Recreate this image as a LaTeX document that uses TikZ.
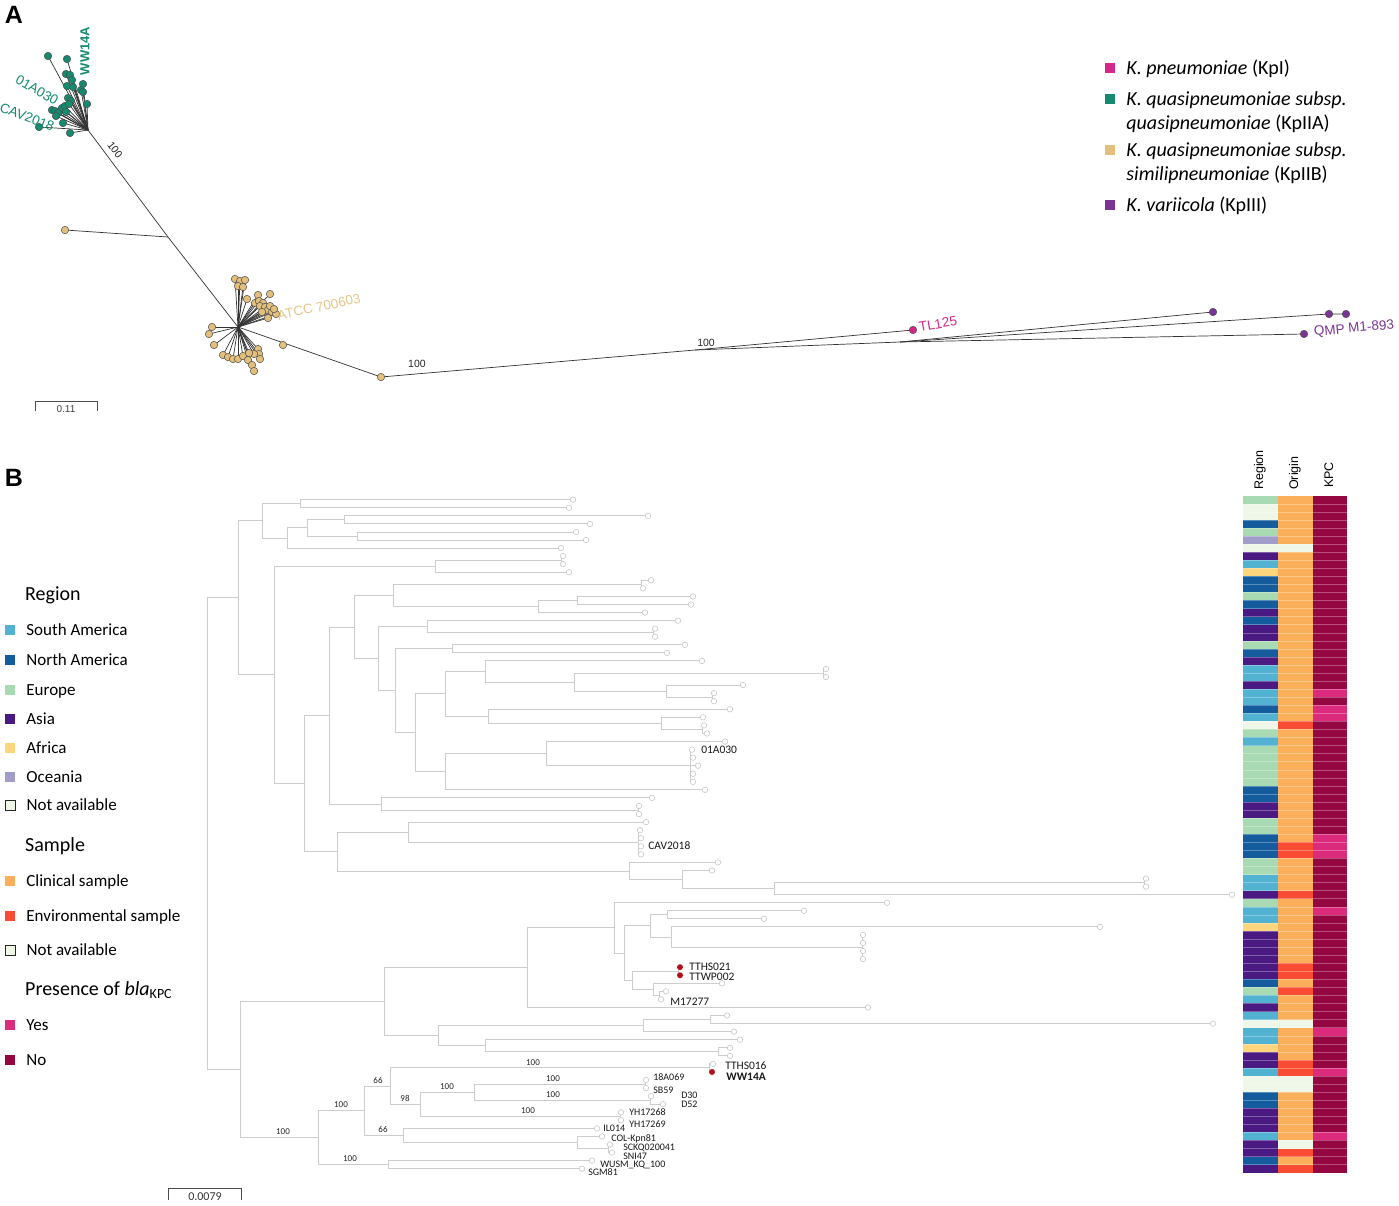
\documentclass[tikz,border=0pt]{standalone}
\usepackage{fontspec}
\setmainfont{Carlito}
\newfontfamily\arialfont{Liberation Sans}
\usetikzlibrary{positioning,backgrounds}

\definecolor{colKpI}{HTML}{D4278A}
\definecolor{colKpIIA}{HTML}{158A6E}
\definecolor{colKpIIB}{HTML}{E3BF7B}
\definecolor{colKpIII}{HTML}{7B3494}
\definecolor{regS}{HTML}{52B2D1}
\definecolor{regN}{HTML}{145C9E}
\definecolor{regE}{HTML}{A8DBB4}
\definecolor{regA}{HTML}{4A1A82}
\definecolor{regF}{HTML}{FDD57C}
\definecolor{regO}{HTML}{A19DCA}
\definecolor{regX}{HTML}{EFF7E8}
\definecolor{oriC}{HTML}{FBAF5B}
\definecolor{oriV}{HTML}{F84D34}
\colorlet{oriX}{regX}
\definecolor{kpcY}{HTML}{DC2A7C}
\definecolor{kpcN}{HTML}{950740}
\definecolor{treegray}{HTML}{CDCDCD}
\definecolor{redtip}{HTML}{B3121C}

\begin{document}
\begin{tikzpicture}[x=1pt, y=-1pt,
  panel/.style={font=\arialfont\bfseries\fontsize{25}{28}\selectfont, inner sep=0pt},
  abranch/.style={draw=black!80, line width=0.7pt},
  tipA/.style={circle, draw=black!70, line width=0.5pt, minimum size=7.5pt, inner sep=0pt},
  alabel/.style={font=\arialfont\fontsize{13.5}{16}\selectfont, inner sep=0pt},
  aboot/.style={font=\arialfont\fontsize{10.5}{12}\selectfont, inner sep=0pt, text=black!85},
  legsq/.style={minimum size=10pt, inner sep=0pt},
  legA/.style={font=\fontsize{20}{24}\selectfont, inner sep=0pt, text height=12.6pt, text depth=0pt, anchor=west},
  legB/.style={font=\fontsize{17}{20}\selectfont, inner sep=0pt, text height=10.7pt, text depth=0pt, anchor=west},
  legBhead/.style={legA},
  branch/.style={draw=treegray, line width=0.9pt},
  tip/.style={circle, draw=black!22, fill=white, line width=0.6pt, minimum size=5.5pt, inner sep=0pt},
  tipred/.style={circle, fill=redtip, minimum size=6pt, inner sep=0pt},
  lbl/.style={font=\fontsize{11.5}{13}\selectfont, inner sep=0pt, text height=7.3pt, text depth=0pt, text=black!90},
  lbls/.style={font=\fontsize{10}{12}\selectfont, inner sep=0pt, text height=6.3pt, text depth=0pt, text=black!90},
  boot/.style={font=\fontsize{9}{10}\selectfont, inner sep=0pt, anchor=south, yshift=2.5pt, text=black!85},
  hdr/.style={font=\arialfont\fontsize{12.5}{14}\selectfont, rotate=90, anchor=base west, inner sep=0pt},
  scalebar/.style={draw=black!70, line width=0.7pt},
  cellsep/.style={draw=white, draw opacity=0.3, line width=0.4pt}
]
\useasboundingbox (0,0) rectangle (1399,1205);

% Panel letters
\node[panel] (pA) at (14,15) {A};
\node[panel] (pB) at (14,478) {B};

% ---------- Panel A: unrooted tree ----------
\coordinate (rA) at (88,130);
\coordinate (jA) at (168,237);
\coordinate (rB) at (238,327);
\coordinate (kS) at (695,350);
\coordinate (kIII) at (900,342);

% KpIIA tips
\foreach \xa/\ya [count=\k] in {48/56, 67/59, 66/74, 70/75, 72/80, 67/86, 73/87, 83/84, 81/90,
    83/92, 68/98, 71/101, 87/104, 52/110, 55/111, 60/111, 62/108, 65/106, 58/113, 56/116,
    63/123, 39/127, 70/133, 66/112, 69/104}
  \node[tipA, fill=colKpIIA] (ia\k) at (\xa,\ya) {};

% KpIIB tips
\foreach \xb/\yb [count=\k] in {235/279, 240/281, 245/280, 238/286, 243/287, 247/299, 258/295,
    270/294, 255/303, 259/301, 263/303, 260/306, 265/307, 268/310, 272/312, 276/314, 262/312,
    268/318, 270/306, 274/309, 212/327, 209/334, 214/345, 223/355, 228/357, 233/359, 238/359,
    243/356, 248/360, 252/365, 254/371, 258/349, 259/354, 260/359, 254/354, 249/353}
  \node[tipA, fill=colKpIIB] (ib\k) at (\xb,\yb) {};

\node[tipA, fill=colKpIIB] (ibS) at (65,230) {};
\node[tipA, fill=colKpIIB] (ib283) at (283,345) {};
\node[tipA, fill=colKpIIB] (ib381) at (381,377) {};
\node[tipA, fill=colKpI] (iTL) at (913,330) {};
\node[tipA, fill=colKpIII] (iv1) at (1213,312) {};
\node[tipA, fill=colKpIII] (iv2) at (1329,314) {};
\node[tipA, fill=colKpIII] (iv3) at (1346,314) {};
\node[tipA, fill=colKpIII] (iv4) at (1304,334) {};

\begin{pgfonlayer}{background}
  \foreach \k in {1,...,25} \draw[abranch] (rA) -- (ia\k.center);
  \foreach \k in {1,...,36} \draw[abranch] (rB) -- (ib\k.center);
  \draw[abranch] (rA) -- (jA) -- (rB) -- (ib381.center) -- (kS) -- (iTL.center);
  \draw[abranch] (jA) -- (ibS.center);
  \draw[abranch] (kS) -- (kIII) -- (iv1.center);
  \draw[abranch] (kIII) -- (iv2.center) -- (iv3.center);
  \draw[abranch] (kIII) -- (iv4.center);
\end{pgfonlayer}

% Panel A labels
\node[alabel, text=colKpIIA, font=\arialfont\bfseries\fontsize{13}{15}\selectfont, rotate=90] (lWW) at (85,51) {WW14A};
\node[alabel, text=colKpIIA, rotate=-30] (l01A) at (37,90) {01A030};
\node[alabel, text=colKpIIA, rotate=-21] (lCAV) at (27,117) {CAV2018};
\node[aboot, rotate=-52] (b1) at (115,150) {100};
\node[alabel, text=colKpIIB!90!white, rotate=12] (lATCC) at (319,307) {ATCC 700603};
\node[aboot] (b2) at (417,364) {100};
\node[aboot] (b3) at (706,343) {100};
\node[alabel, text=colKpI, rotate=10] (lTL) at (938,324) {TL125};
\node[alabel, text=colKpIII, rotate=5] (lQMP) at (1354,329) {QMP M1-893};

% Scale bar A
\draw[scalebar] (35,411) -- (35,401) -- (97,401) -- (97,411);
\node[font=\arialfont\fontsize{10}{12}\selectfont, text=black!75] (sA) at (66,409) {0.11};

% Legend A
\node[legsq, fill=colKpI] (qI) at (1110,68) {};
\node[legA, right=11pt of qI] (tI) {\textit{K. pneumoniae} (KpI)};
\node[legsq, fill=colKpIIA] (qIIA) at (1110,99) {};
\node[legA, right=11pt of qIIA] (tIIA) {\textit{K. quasipneumoniae subsp.}};
\node[legA, below=11.6pt of tIIA.south west, anchor=north west] (tIIA2) {\textit{quasipneumoniae} (KpIIA)};
\node[legsq, fill=colKpIIB] (qIIB) at (1110,150) {};
\node[legA, right=11pt of qIIB] (tIIB) {\textit{K. quasipneumoniae subsp.}};
\node[legA, below=11.6pt of tIIB.south west, anchor=north west] (tIIB2) {\textit{similipneumoniae} (KpIIB)};
\node[legsq, fill=colKpIII] (qIII) at (1110,205) {};
\node[legA, right=11pt of qIII] (tIII) {\textit{K. variicola} (KpIII)};

% ---------- Panel B: rooted tree + heatmap ----------
\begin{scope}[yshift=-499.7pt, y=-8.06pt]
  % leaves
  \foreach \i/\xe/\st in {0/573/tip, 1/569/tip, 2/648/tip, 3/590/tip, 4/576/tip, 5/586/tip,
      6/561/tip, 7/563/tip, 8/563/tip, 9/569/tip, 10/651/tip, 11/643/tip, 12/693/tip, 13/691/tip,
      14/645/tip, 15/678/tip, 16/655/tip, 17/655/tip, 18/685/tip, 19/667/tip, 20/702/tip,
      21/826/tip, 22/826/tip, 23/743/tip, 24/714/tip, 25/714/tip, 26/730/tip, 27/703/tip,
      28/704/tip, 29/707/tip, 30/725/tip, 31/692/tip, 32/693/tip, 33/698/tip, 34/693/tip,
      35/693/tip, 36/705/tip, 37/652/tip, 38/639/tip, 39/639/tip, 40/646/tip, 41/640/tip,
      42/641/tip, 43/641/tip, 44/641/tip, 45/718/tip, 46/712/tip, 47/1146/tip, 48/1146/tip,
      49/1232/tip, 50/887/tip, 51/804/tip, 52/764/tip, 53/1100/tip, 54/863/tip, 55/863/tip,
      56/863/tip, 57/863/tip, 58/680/tipred, 59/680/tipred, 60/722/tip, 61/666/tip, 62/661/tip,
      63/868/tip, 64/727/tip, 65/1213/tip, 66/734/tip, 67/740/tip, 68/730/tip, 69/730/tip,
      70/713/tip, 71/712/tipred, 72/646/tip, 73/646/tip, 74/651/tip, 75/663/tip, 76/621/tip,
      77/621/tip, 78/597/tip, 79/602/tip, 80/610/tip, 81/612/tip, 82/592/tip, 83/582/tip}
    \node[\st] (t\i) at (\xe,\i) {};

  % internal nodes
  \foreach \n/\xc/\yc in {cA/300/0.5, cB/344.5/2.5, cC/357/4.5, cD/307/3.5, cE/287/4.75,
      cF/262/2.625, cH/561/7.5, cG/435/8.25, cJ/641/10.5, cL/577/12.5, cK/538/13.25,
      cI/393/11.875, cN/653/16.5, cM/427/15.75, cO/452/18.5, cR/823/21.5, cT/712/24.5,
      cS/666/23.75, cQ/574/22.625, cP/485/21.3125, cW/702/28.5, cV/661/27.75, cU/488/26.875,
      cX/445/24.094, cCl/690/33, cZ/546/31.5, cY/445/33.75, cAA/415/28.92, cAB/395/23.71,
      cAC/378/19.73, cAD/354/15.80, cAG/638/38.5, cAF/381/37.75, cAE/329/26.775,
      cCc/638/42.5, cAH/408/41.25, c47/1144/47.5, c774/774/48.25, c682/682/47.125,
      c629/629/46.06, cAI/337/43.66, cAJ/304/35.22, cAK/274/21.735, cU0/238/12.18,
      c51/667/51.5, c54/862/55.5, c671/671/54.25, c650/650/52.875, c58/678/58.5,
      c659/659/61.5, c653/653/60.75, c632/632/59.625, c624/624/56.25, c614/614/53.125,
      c527/527/58.06, c710/710/64.5, c643/643/65.25, c718/718/68.5, c485/485/67.75,
      c438/438/66.5, c384/384/62.28, c711/709/70.5, c645/645/72.5, c650b/650/74.5,
      c474/474/73.5, c620/620/76.5, c420/420/75, c390/390/72.75, c613/608/80.5,
      c577/577/79.75, c403/403/78.875, c364/364/75.81, c388/388/82.5, c318/318/79.16,
      cL0/240/70.72, croot/207/41.45}
    \coordinate (\n) at (\xc,\yc);

  % branches
  \begin{pgfonlayer}{background}
  \foreach \p/\c in {cF/cA, cF/cE, cA/t0, cA/t1, cE/cD, cE/t6, cD/cB, cD/cC, cB/t2, cB/t3,
      cC/t4, cC/t5, cU0/cF, cU0/cAK, cAK/cG, cAK/cAJ, cG/cH, cG/t9, cH/t7, cH/t8,
      cAJ/cAE, cAJ/cAI, cAE/cAD, cAE/cAF, cAD/cI, cAD/cAC, cI/cJ, cI/cK, cJ/t10, cJ/t11,
      cK/cL, cK/t14, cL/t12, cL/t13, cAC/cM, cAC/cAB, cM/t15, cM/cN, cN/t16, cN/t17,
      cAB/cO, cAB/cAA, cO/t18, cO/t19, cAA/cX, cAA/cY, cX/cP, cX/cU, cP/t20, cP/cQ,
      cQ/cR, cQ/cS, cR/t21, cR/t22, cS/t23, cS/cT, cT/t24, cT/t25, cU/t26, cU/cV,
      cV/t27, cV/cW, cW/t28, cW/t29, cY/cZ, cY/t36, cZ/t30, cZ/cCl, cCl/t31, cCl/t32,
      cCl/t33, cCl/t34, cCl/t35, cAF/t37, cAF/cAG, cAG/t38, cAG/t39, cAI/cAH, cAI/c629,
      cAH/t40, cAH/cCc, cCc/t41, cCc/t42, cCc/t43, cCc/t44, c629/t45, c629/c682,
      c682/t46, c682/c774, c774/c47, c774/t49, c47/t47, c47/t48,
      croot/cU0, croot/cL0, cL0/c384, cL0/c318, c384/c527, c384/c438, c527/c614, c527/t63,
      c614/t50, c614/c624, c624/c650, c624/c632, c650/c51, c650/c671, c51/t51, c51/t52,
      c671/t53, c671/c54, c54/t54, c54/t55, c54/t56, c54/t57, c632/c58, c632/c653,
      c58/t58, c58/t59, c653/t60, c653/c659, c659/t61, c659/t62, c438/c643, c438/c485,
      c643/c710, c643/t66, c710/t64, c710/t65, c485/t67, c485/c718, c718/t68, c718/t69,
      c318/c364, c318/c388, c364/c390, c364/c403, c390/c711, c390/c420, c711/t70, c711/t71,
      c420/c474, c420/c620, c474/c645, c474/c650b, c645/t72, c645/t73, c650b/t74, c650b/t75,
      c620/t76, c620/t77, c403/t78, c403/c577, c577/t79, c577/c613, c613/t80, c613/t81,
      c388/t82, c388/t83}
    \draw[branch] (\p) |- (\c);
  \end{pgfonlayer}

  % bootstrap values
  \foreach \xb/\yb/\v in {533/70.5/100, 378/72.75/66, 447/73.5/100, 405/75/98, 553/72.5/100,
      553/74.5/100, 528/76.5/100, 341/75.81/100, 383/78.875/66, 283/79.16/100, 350/82.5/100}
    \node[boot] at (\xb,\yb) {\v};

  % tip labels
  \foreach \t/\g/\ys/\txt in {31/6pt/0pt/01A030, 43/4pt/0pt/CAV2018, 58/6pt/0pt/TTHS021,
      59/6pt/-1.5pt/TTWP002, 62/6pt/-2.5pt/M17277, 70/9pt/-2pt/TTHS016}
    \node[lbl, right=\g of t\t, yshift=\ys] (l\t) {\txt};
  \node[lbl, right=11pt of t71, yshift=-5pt] (l71) {\textbf{WW14A}};
  \foreach \t/\g/\ys/\txt in {72/4pt/3pt/18A069, 73/4pt/-2pt/SB59, 74/27pt/1pt/D30,
      75/15pt/0pt/D52, 76/5pt/0pt/YH17268, 77/5pt/-4.5pt/YH17269, 78/3pt/0pt/IL014,
      79/6pt/-1.5pt/COL-Kpn81, 80/10pt/-2.5pt/SCKQ020041, 81/8pt/-3.5pt/SNI47,
      82/5pt/-3.5pt/WUSM\_KQ\_100, 83/3pt/-4pt/SGM81}
    \node[lbls, right=\g of t\t, yshift=\ys] (l\t) {\txt};

  % heatmap: region, origin, KPC
  \foreach \r [count=\i from 0] in {E,X,X,N,E,O,X,A,S,F, N,N,E,N,A,N,A,A,E,N,
      A,S,S,A,S,S,N,S,X,E, S,E,E,E,E,E,N,N,A,A, E,E,N,N,N,E,E,S,S,A,
      E,S,S,F,A,A,A,A,A,A, N,E,S,A,S,X,S,S,F,A, A,S,X,X,N,N,A,A,A,S, A,A,N,A}
    \fill[reg\r] (1243,\i-0.5) rectangle (1278,\i+0.5);
  \foreach \o [count=\i from 0] in {C,C,C,C,C,C,X,C,C,C, C,C,C,C,C,C,C,C,C,C,
      C,C,C,C,C,C,C,C,V,C, C,C,C,C,C,C,C,C,C,C, C,C,C,V,V,C,C,C,C,V,
      C,C,C,C,C,C,C,C,V,V, C,V,C,C,C,X,C,C,C,C, V,V,X,X,C,C,C,C,C,C, X,V,C,V}
    \fill[ori\o] (1278,\i-0.5) rectangle (1313,\i+0.5);
  \foreach \q [count=\i from 0] in {N,N,N,N,N,N,N,N,N,N, N,N,N,N,N,N,N,N,N,N,
      N,N,N,N,Y,N,Y,Y,N,N, N,N,N,N,N,N,N,N,N,N, N,N,Y,Y,Y,N,N,N,N,N,
      N,Y,N,N,N,N,N,N,N,N, N,N,N,N,N,N,Y,N,N,N, N,Y,N,N,N,N,N,N,N,Y, N,N,N,N}
    \fill[kpc\q] (1313,\i-0.5) rectangle (1347,\i+0.5);
  \foreach \i in {1,...,83}
    \draw[cellsep] (1243,\i-0.5) -- (1347,\i-0.5);
\end{scope}

% heatmap headers
\node[hdr] (hReg) at (1263,490) {Region};
\node[hdr] (hOri) at (1298,490) {Origin};
\node[hdr] (hKPC) at (1333,488) {KPC};

% Scale bar B
\draw[scalebar] (168,1200) -- (168,1188) -- (241,1188) -- (241,1200);
\node[font=\fontsize{12}{14}\selectfont, text=black!80] (sB) at (205,1197) {0.0079};

% Legend B
\node[legBhead] (hRegion) at (25,594.5) {Region};
\foreach \c/\yy/\txt in {S/630/South America, N/660/North America, E/690/Europe,
    A/719/Asia, F/748/Africa, O/777/Oceania}
  {\node[legsq, fill=reg\c] (q\c) at (10,\yy) {};
   \node[legB, right=11pt of q\c] {\txt};}
\node[legsq, fill=regX, draw=black!85, line width=0.8pt] (qX) at (10,805) {};
\node[legB, right=11pt of qX] {Not available};

\node[legBhead] (hSample) at (25,845.5) {Sample};
\node[legsq, fill=oriC] (qC) at (10,881) {};
\node[legB, right=11pt of qC] {Clinical sample};
\node[legsq, fill=oriV] (qV) at (10,916) {};
\node[legB, right=11pt of qV] {Environmental sample};
\node[legsq, fill=oriX, draw=black!85, line width=0.8pt] (qOX) at (10,950) {};
\node[legB, right=11pt of qOX] {Not available};

\node[legBhead] (hPres) at (25,989) {Presence of \textit{bla}\textsubscript{KPC}};
\node[legsq, fill=kpcY] (qY) at (10,1025) {};
\node[legB, right=11pt of qY] {Yes};
\node[legsq, fill=kpcN] (qN) at (10,1060) {};
\node[legB, right=11pt of qN] {No};

\end{tikzpicture}
\end{document}
